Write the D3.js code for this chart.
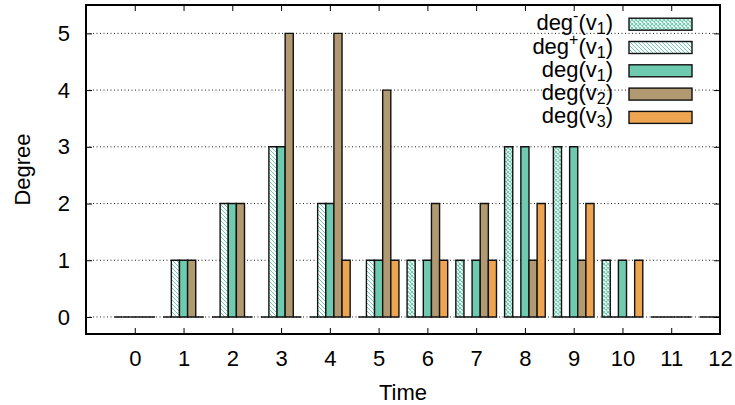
<!DOCTYPE html>
<html>
<head>
<meta charset="utf-8">
<script src="https://cdn.jsdelivr.net/npm/d3@7"></script>
<style>
  body { margin: 0; background: #fff; }
  svg { display: block; font-family: "Liberation Sans", Arial, sans-serif; }
</style>
</head>
<body>
<svg width="735" height="405"></svg>
<script>
// data
const times = [0, 1, 2, 3, 4, 5, 6, 7, 8, 9, 10, 11, 12];
const degInV1 = [0, 0, 0, 0, 0, 0, 1, 1, 3, 3, 1, 0, 0];
const degOutV1 = [0, 1, 2, 3, 2, 1, 0, 0, 0, 0, 0, 0, 0];
const degV1 = [0, 1, 2, 3, 2, 1, 1, 1, 3, 3, 1, 0, 0];
const degV2 = [0, 1, 2, 5, 5, 4, 2, 2, 1, 1, 0, 0, 0];
const degV3 = [0, 0, 0, 0, 1, 1, 1, 1, 2, 2, 1, 0, 0];
const yTicks = [0, 1, 2, 3, 4, 5];

const series = [
  { key: 'in', sup: '-', sub: '1', values: degInV1, fill: 'url(#cross)' },
  { key: 'out', sup: '+', sub: '1', values: degOutV1, fill: 'url(#diag)' },
  { key: 'v1', sup: null, sub: '1', values: degV1, fill: '#6fcbb0' },
  { key: 'v2', sup: null, sub: '2', values: degV2, fill: '#b19a72' },
  { key: 'v3', sup: null, sub: '3', values: degV3, fill: '#eea552' }
];

const svg = d3.select('svg');
const L = 86, R = 720, T = 5, B = 334;
const FONT = '22px';

const x = d3.scaleLinear().domain([-1, 12]).range([L, R]);
const y = d3.scaleLinear().domain([-0.3, 5.5]).range([B, T]);
// offset of each series inside a group (gap of one bar)
const slot = d3.scaleBand()
  .domain(series.map(s => s.key))
  .range([-2.5 / 6, 2.5 / 6]);

// patterns
const defs = svg.append('defs');
const diag = defs.append('pattern')
  .attr('id', 'diag')
  .attr('patternUnits', 'userSpaceOnUse')
  .attr('width', 4).attr('height', 4);
diag.append('rect').attr('width', 4).attr('height', 4).attr('fill', '#fff');
diag.append('path')
  .attr('d', 'M-1,-1 L5,5 M-1,3 L1,5 M3,-1 L5,1')
  .attr('stroke', '#6fcbb0').attr('stroke-width', 1);

const cross = defs.append('pattern')
  .attr('id', 'cross')
  .attr('patternUnits', 'userSpaceOnUse')
  .attr('width', 4).attr('height', 4);
cross.append('rect').attr('width', 4).attr('height', 4).attr('fill', '#fff');
cross.append('path')
  .attr('d', 'M0,0 L4,4 M4,0 L0,4')
  .attr('stroke', '#6fcbb0').attr('stroke-width', 1.1);

defs.append('clipPath').attr('id', 'plot')
  .append('rect').attr('x', L).attr('y', T).attr('width', R - L).attr('height', B - T);

// grid
svg.append('g')
  .selectAll('line')
  .data(yTicks)
  .join('line')
  .attr('x1', L).attr('x2', R)
  .attr('y1', d => y(d)).attr('y2', d => y(d))
  .attr('stroke', '#222')
  .attr('stroke-width', 1)
  .attr('stroke-dasharray', '1,2.5');

// bars
const bars = svg.append('g').attr('clip-path', 'url(#plot)');
series.forEach(s => {
  bars.append('g')
    .selectAll('path')
    .data(times)
    .join('path')
    .attr('d', (t, i) => {
      const x0 = x(t + slot(s.key));
      const x1 = x(t + slot(s.key) + slot.bandwidth());
      const y0 = y(0), y1 = y(s.values[i]);
      return `M${x0},${y0}V${y1}H${x1}V${y0}Z`;
    })
    .attr('fill', s.fill)
    .attr('stroke', '#111')
    .attr('stroke-width', 1.4);
});

// axes
const yAxis = d3.axisLeft(y).tickValues(yTicks).tickFormat(d3.format('d'))
  .tickSizeInner(-6).tickSizeOuter(0).tickPadding(16);
const xAxis = d3.axisBottom(x).tickValues(times).tickFormat(d3.format('d'))
  .tickSizeInner(-6).tickSizeOuter(0).tickPadding(16);

const gy = svg.append('g').attr('transform', `translate(${L},0)`).call(yAxis);
const gx = svg.append('g').attr('transform', `translate(0,${B})`).call(xAxis);
svg.append('g').attr('transform', `translate(${R},0)`)
  .call(d3.axisRight(y).tickValues(yTicks).tickSizeInner(-6).tickSizeOuter(0).tickFormat(''));
svg.append('g').attr('transform', `translate(0,${T})`)
  .call(d3.axisTop(x).tickValues(times).tickSizeInner(-6).tickSizeOuter(0).tickFormat(''));

svg.selectAll('.domain').remove();
svg.selectAll('.tick line').attr('stroke', '#000').attr('stroke-width', 1);
[gx, gy].forEach(g => g.selectAll('text')
  .attr('fill', '#000')
  .style('font-size', FONT)
  .style('font-family', '"Liberation Sans", Arial, sans-serif'));

// border
svg.append('rect')
  .attr('x', L).attr('y', T)
  .attr('width', R - L).attr('height', B - T)
  .attr('fill', 'none')
  .attr('stroke', '#000')
  .attr('stroke-width', 2);

// axis titles
svg.append('text')
  .attr('x', x(5.5)).attr('y', 400)
  .attr('text-anchor', 'middle')
  .style('font-size', FONT)
  .text('Time');

svg.append('text')
  .attr('transform', `translate(30,${y(2.6)}) rotate(-90)`)
  .attr('text-anchor', 'middle')
  .style('font-size', FONT)
  .text('Degree');

// legend
const rowY = d3.scaleLinear().domain([0, 1]).range([24.2, 47.5]);
const legend = svg.append('g');
series.forEach((s, i) => {
  const cy = rowY(i);
  legend.append('rect')
    .attr('x', 629).attr('y', cy - 6)
    .attr('width', 63).attr('height', 12)
    .attr('fill', s.fill)
    .attr('stroke', '#111')
    .attr('stroke-width', 1.4);
  const t = legend.append('text')
    .attr('x', 613).attr('y', cy + 6)
    .attr('text-anchor', 'end')
    .style('font-size', FONT);
  t.append('tspan').text('deg');
  if (s.sup) {
    t.append('tspan').attr('dy', -9).style('font-size', '16px').text(s.sup);
    t.append('tspan').attr('dy', 9).text('(v');
  } else {
    t.append('tspan').text('(v');
  }
  t.append('tspan').attr('dy', 4).style('font-size', '16px').text(s.sub);
  t.append('tspan').attr('dy', -4).text(')');
});
</script>
</body>
</html>
